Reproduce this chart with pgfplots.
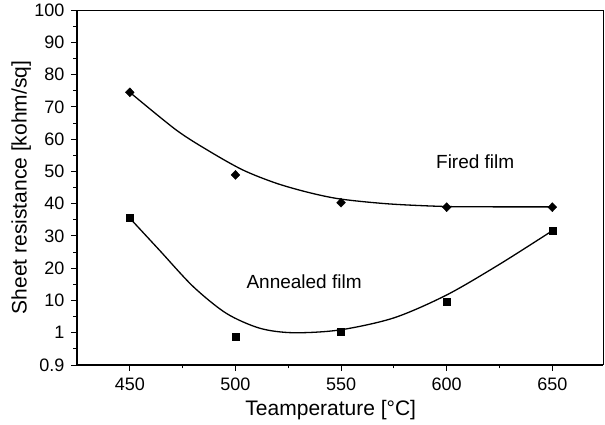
\documentclass[border=0pt]{standalone}
\usepackage{pgfplots}
\pgfplotsset{compat=1.18}
\usepackage{fontspec}
\setmainfont{Liberation Sans}
\begin{document}
% y positions: 0.9 -> -10, 1 -> 0, 10 -> 10, ..., 100 -> 100 (the original's odd scale)
\begin{tikzpicture}
\begin{axis}[
    name=ax,
    scale only axis,
    width=526pt,
    height=355pt,
    xmin=425, xmax=674,
    ymin=-10, ymax=100,
    xtick={450,500,...,650},
    minor x tick num=1,
    ytick={-10,0,10,20,...,100},
    yticklabels={0.9,1,10,20,30,40,50,60,70,80,90,100},
    minor y tick num=1,
    axis x line*=bottom,
    axis y line*=left,
    axis line style={line width=1.6pt, -},
    tick align=outside,
    major tick length=6pt,
    minor tick length=3.5pt,
    every tick/.style={black, line width=0.9pt},
    /pgf/number format/assume math mode=true,
    ticklabel style={font=\fontsize{18}{18}\selectfont},
    yticklabel style={xshift=-3pt},
    xticklabel style={yshift=-3pt},
    xlabel={Teamperature [°C]},
    ylabel={Sheet resistance [kohm/sq]},
    every axis x label/.style={at={(axis description cs:0.4825,-0.141)}, anchor=base,
        font=\fontsize{21}{21}\selectfont},
    every axis y label/.style={at={(axis description cs:-0.106,0.5)}, rotate=90, anchor=center,
        font=\fontsize{21}{21}\selectfont},
    clip=false,
]
\draw[line width=0.8pt] (rel axis cs:0,1) -- (rel axis cs:1,1) -- (rel axis cs:1,0);

% fitted curves
\addplot[black, line width=1.3pt, smooth, tension=0.5] coordinates {
    (450,74.5) (472,62.8) (488,56.1) (503.6,50.4) (519.4,46.3) (535,43.4) (550,41.4) (573,39.9) (600,39.1) (625,39) (650,39)
};
\addplot[black, line width=1.3pt, smooth, tension=0.5] coordinates {
    (450,35.5) (464,25.6) (480,14.3) (495.7,6.0) (511.5,1.4) (527.2,0.0) (549.3,0.85) (575,4.6) (600,11.7) (625,21.2) (650,31.6)
};

% measured points
\addplot[only marks, mark=diamond*, mark size=4.5pt, mark options={xscale=1.3}, black] coordinates {
    (450,74.5) (500,48.9) (550,40.3) (600,38.9) (650,38.9)
};
\addplot[only marks, mark=square*, mark size=3.5pt, black] coordinates {
    (450,35.5) (500,-1.2) (550,0.3) (600,9.6) (650,31.6)
};

\node[font=\fontsize{19}{19}\selectfont] at (axis cs:613.5,53.1) {Fired film};
\node[font=\fontsize{19}{19}\selectfont] at (axis cs:532.5,15.9) {Annealed film};
\end{axis}
\pgfresetboundingbox
\path[use as bounding box] ([xshift=-77pt,yshift=-60pt]ax.south west) rectangle ([xshift=2pt,yshift=10pt]ax.north east);
\end{tikzpicture}
\end{document}
